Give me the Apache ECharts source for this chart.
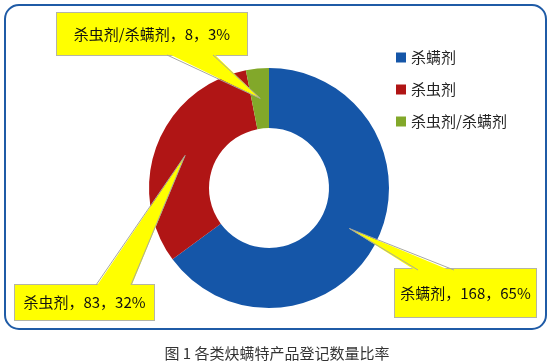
<!DOCTYPE html>
<html><head><meta charset="utf-8">
<script src="https://cdn.jsdelivr.net/npm/echarts@6/dist/echarts.min.js"></script>
<style>html,body{margin:0;padding:0;background:#fff}#c{width:554px;height:363px}</style>
</head><body><div id="c"></div>
<script>
const categories = ['杀螨剂', '杀虫剂', '杀虫剂/杀螨剂'];
const counts = [168, 83, 8];
const colors = ['#1556a8', '#b01515', '#82a82a'];
const caption = '图 1 各类炔螨特产品登记数量比率';

// callout box layout: centre, size, and the two base points of the pointer
const boxes = [
  {cx: 465.5, cy: 293, w: 141, h: 48, base: [[418, 270], [454, 270]]},
  {cx: 84.5, cy: 302.5, w: 139, h: 35, base: [[96, 285], [131, 285]]},
  {cx: 152, cy: 34, w: 190, h: 42, base: [[167, 55], [213, 55]]}
];

const font = "'Noto Sans CJK SC', 'Noto Sans', sans-serif";
const chart = echarts.init(document.getElementById('c'));

const option = {
  animation: false,
  color: colors,
  title: {
    text: caption, left: 'center', top: 341,
    textStyle: {fontSize: 15, fontWeight: 'normal', color: '#333', fontFamily: font}
  },
  legend: {
    data: categories, orient: 'vertical', left: 391, top: 45,
    itemWidth: 10, itemHeight: 10, itemGap: 17, icon: 'rect',
    textStyle: {fontSize: 15, color: '#222', fontFamily: font}
  },
  series: [{
    type: 'pie',
    center: [269, 188],
    radius: [60, 120],
    startAngle: 90,
    clockwise: true,
    avoidLabelOverlap: false,
    emphasis: {disabled: true},
    label: {
      show: true, position: 'inside',
      formatter: p => p.name + '，' + p.value + '，' + Math.round(p.percent) + '%',
      backgroundColor: '#ffff00', borderColor: '#b5b5a5', borderWidth: 1,
      color: '#111', fontSize: 15, fontFamily: font, align: 'center'
    },
    labelLine: {show: false},
    labelLayout: p => {
      const b = boxes[p.dataIndex];
      return {x: b.cx, y: b.cy, align: 'center', verticalAlign: 'middle'};
    },
    data: categories.map((n, i) => ({
      name: n, value: counts[i],
      label: {width: boxes[i].w, height: boxes[i].h, lineHeight: boxes[i].h, overflow: 'none'}
    }))
  }]
};
chart.setOption(option);

const sdata = chart.getModel().getSeriesByIndex(0).getData();
const g = [{
  type: 'rect', z: 0,
  shape: {x: 5, y: 5, width: 541, height: 324, r: 14},
  style: {fill: 'none', stroke: '#1f5ba6', lineWidth: 2}
}];
boxes.forEach((b, i) => {
  const L = sdata.getItemLayout(i);
  const mid = (L.startAngle + L.endAngle) / 2;
  const rm = (L.r + L.r0) / 2;
  const tip = [L.cx + rm * Math.cos(mid), L.cy + rm * Math.sin(mid)];
  const s = Math.sign(b.cy - b.base[0][1]) * 2;
  g.push({
    type: 'polygon', z: 10,
    shape: {points: [[b.base[0][0], b.base[0][1] + s], tip, [b.base[1][0], b.base[1][1] + s]]},
    style: {fill: '#ffff00', stroke: 'none'}
  });
  g.push({
    type: 'polyline', z: 11,
    shape: {points: [b.base[0], tip, b.base[1]]},
    style: {fill: 'none', stroke: '#a8a8a0', lineWidth: 1}
  });
});
chart.setOption({graphic: g});
</script>
</body></html>
